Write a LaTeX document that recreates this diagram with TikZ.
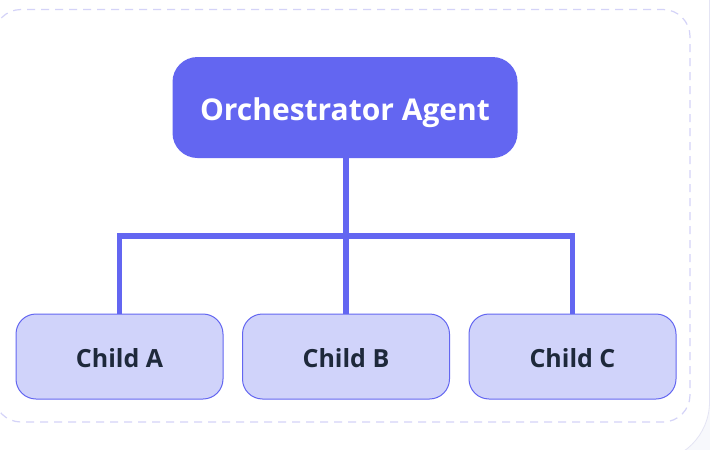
\documentclass[tikz,border=0pt]{standalone}
\usepackage{fontspec}
\setmainfont{Open Sans}
\definecolor{pagebg}{HTML}{F7F8FC}
\definecolor{cardedge}{HTML}{E4E4F4}
\definecolor{dashc}{HTML}{D4D3F8}
\definecolor{indigo}{HTML}{6366F1}
\definecolor{childfill}{HTML}{D0D3FA}
\definecolor{childtext}{HTML}{1E293B}
\tikzset{
  orch/.style={fill=indigo, draw=none, rounded corners=25pt, minimum width=345pt, minimum height=101pt, text=white, font=\fontsize{30}{36}\selectfont\bfseries, inner sep=0pt, text height=25.4pt, text depth=0pt},
  child/.style={fill=childfill, draw=indigo, line width=1pt, rounded corners=20pt, minimum width=207pt, minimum height=85pt, text=childtext, font=\fontsize{25}{30}\selectfont\bfseries, inner sep=0pt, text height=21.8pt, text depth=0pt},
  link/.style={draw=indigo, line width=5.5pt},
}
\begin{document}
\begin{tikzpicture}[x=1pt,y=-1pt]
\useasboundingbox (0,0) rectangle (710,450);
\fill[pagebg] (0,0) rectangle (710,450);
\draw[cardedge, fill=white, line width=0.8pt, rounded corners=60pt] (-80,-80) rectangle (709.5,462);
\draw[dashc, line width=1.2pt, dash pattern=on 8pt off 6pt, rounded corners=27pt] (-6,9.5) rectangle (690,422);
\node[orch] (orch) at (345,107.5) {Orchestrator Agent};
\node[child] (ca) at (119.5,356.5) {Child A};
\node[child] (cb) at (346,356.5) {Child B};
\node[child] (cc) at (572.5,356.5) {Child C};
\coordinate (bus) at (346,236);
\draw[link] (orch.south -| bus) -- (bus);
\draw[link] (ca.north) |- (bus) -| (cc.north);
\draw[link] (bus) -- (cb.north);
\end{tikzpicture}
\end{document}
